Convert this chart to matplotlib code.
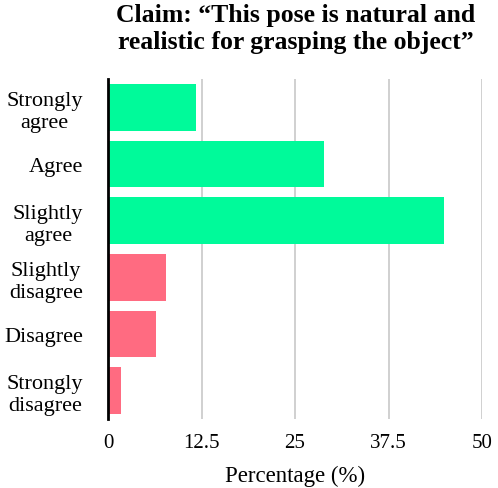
import matplotlib.pyplot as plt
import numpy as np

plt.rcParams['font.family'] = ['Liberation Serif', 'DejaVu Serif']

categories = ['Strongly\nagree', 'Agree', 'Slightly\nagree',
              'Slightly\ndisagree', 'Disagree', 'Strongly\ndisagree']
values = [11.8, 28.9, 44.9, 7.7, 6.4, 1.7]
colors = ['#00FA9A', '#00FA9A', '#00FA9A', '#FF6B81', '#FF6B81', '#FF6B81']
xticks = [0, 12.5, 25, 37.5, 50]
xticklabels = ['0', '12.5', '25', '37.5', '50']

fig = plt.figure(figsize=(4.98, 4.89), dpi=100)
ax = fig.add_axes([108/498, 1-420/489, 374/498, 340/489])

y = np.arange(len(categories))
ax.barh(y, values, height=0.82, color=colors, zorder=3)
ax.set_ylim(len(categories)-0.5, -0.5)
ax.set_xlim(0, 50)

ax.set_yticks(y)
ax.set_yticklabels(categories, fontsize=16, multialignment='center')
ax.set_xticks(xticks)
ax.set_xticklabels(xticklabels, fontsize=15)
ax.tick_params(length=0)
ax.tick_params(axis='y', pad=18)
ax.tick_params(axis='x', pad=10)

ax.grid(axis='x', color='#c8c8c8', linewidth=1.2, zorder=0)
for s in ['top', 'right', 'bottom']:
    ax.spines[s].set_visible(False)
ax.spines['left'].set_linewidth(2)
ax.spines['left'].set_zorder(4)

ax.set_xlabel('Percentage (%)', fontsize=16.5, labelpad=9)
fig.text(0.593, 0.992, 'Claim: \u201cThis pose is natural and\nrealistic for grasping the object\u201d',
         ha='center', va='top', fontsize=18.5, fontweight='bold', linespacing=1.2)

plt.savefig('out.png', dpi=100)
